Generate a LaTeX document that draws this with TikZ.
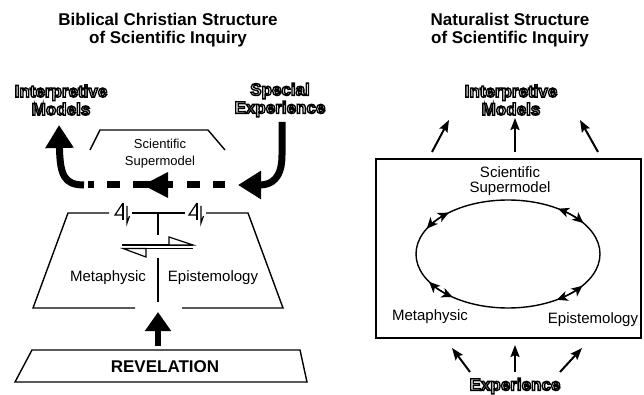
\documentclass[tikz,border=0pt]{standalone}
\usepackage{fontspec}
\setmainfont{Liberation Sans}
\font\hollowfnt="Liberation Sans/B:embolden=8" at 17pt
\newcommand\hollowsetup{\hollowfnt\baselineskip 18pt\relax}
\newcommand\hollowtext[1]{\special{pdf:bcolor [1] [0]}#1\special{pdf:ecolor}}
\usetikzlibrary{arrows.meta,calc}
\tikzset{
  hpair/.pic={
    \draw[line width=1.2pt] (0,-10) -- (0,7);
    \draw[line width=1.2pt] (0,-10) -- (-8,2) -- (0,2);
    \draw[line width=1.2pt] (4,-7) -- (4,10) -- (6.5,3);
  }
}
\begin{document}
\begin{tikzpicture}[x=1pt,y=-1pt,
  thinline/.style={line width=1.4pt},
  heavy/.style={line width=7pt},
  ttl/.style={font=\fontsize{17}{18}\selectfont\bfseries, align=center, inner sep=0},
  lbl/.style={font=\fontsize{15}{15.5}\selectfont, inner sep=0},
  hollow/.style={font=\hollowsetup, align=center, inner sep=0},
  smallarrow/.style={line width=2pt, -{Stealth[length=12pt,width=9pt,inset=2pt]}},
  ringtip/.style={line width=1.4pt, -{Stealth[length=11pt,width=10pt,inset=3pt]}},
  bigarrow/.style={line width=7pt, -{Triangle[length=23pt,width=27pt]}},
]
\useasboundingbox (0,0) rectangle (644,395);

% titles
\node[ttl] (lt) at (168,30) {Biblical Christian Structure\\of Scientific Inquiry};
\node[ttl] (rt) at (510,30) {Naturalist Structure\\of Scientific Inquiry};

% hollow labels
\node[hollow] (lim) at (61,100) {\hollowtext{Interpretive}\\\hollowtext{Models}};
\node[hollow] (lse) at (280,100) {\hollowtext{Special}\\\hollowtext{Experience}};
\node[hollow] (rim) at (511,100) {\hollowtext{Interpretive}\\\hollowtext{Models}};
\node[hollow] (rex) at (515,386) {\hollowtext{Experience}};

% ---------- left panel ----------
\draw[thinline] (90,150) -- (100,130) -- (208,130) -- (225,150);
\node[font=\fontsize{13}{17}\selectfont, align=center, inner sep=0] (lsm) at (160,154) {Scientific\\Supermodel};

\coordinate (lstart) at (84,185);
\coordinate (ltip) at (59,125);
\draw[bigarrow] (lstart) .. controls (64,185) and (60,175) .. (ltip);

\coordinate (rstart) at (282,122);
\coordinate (rtip) at (238,185);
\draw[bigarrow] (rstart) -- (282,155) .. controls (282,178) and (272,185) .. (rtip);

\draw[heavy] (88,185) -- (94,185);
\draw[heavy] (107,185) -- (120,185);
\draw[heavy] (133,185) -- (173,185);
\fill (143,185) -- (168,172) -- (168,198) -- cycle;
\draw[heavy] (187,185) -- (200,185);
\draw[heavy] (213,185) -- (225,185);

% lower trapezoid
\draw[thinline] (109,213) -- (68,213) -- (33,308) -- (135,308);
\draw[thinline] (206,213) -- (248,213) -- (283,308) -- (182,308);
\draw[thinline] (132,213) -- (185,213);
\pic at (123,213) {hpair};
\pic at (197,213) {hpair};
\draw[thinline] (158,213) -- (158,235);

\draw[line width=1.2pt] (122,245) -- (193,245);
\draw[line width=1.2pt] (122,248.5) -- (193,248.5);
\draw[line width=1.2pt, fill=white] (169,245) -- (169,237) -- (193,245) -- cycle;
\draw[line width=1.2pt, fill=white] (146,248.5) -- (146,257) -- (123,248.5) -- cycle;

\draw[thinline] (158,258) -- (158,302);
\node[lbl] (lmeta) at (108,278) {Metaphysic};
\node[lbl] (lepi) at (213,278) {Epistemology};

\coordinate (uab) at (158,346);
\coordinate (uat) at (158,312);
\draw[line width=6pt, -{Triangle[length=19pt,width=25pt]}] (uab) -- (uat);

\draw[thinline] (32,350) -- (300,350) -- (307,382) -- (15,382) -- cycle;
\node[font=\fontsize{17}{18}\selectfont\bfseries, inner sep=0] (rev) at (165,367) {REVELATION};

% ---------- right panel ----------
\node[draw, thinline, minimum width=265pt, minimum height=179pt, inner sep=0] (box) at (508.5,248.5) {};
\node[lbl, align=center] (rsm) at (510,181) {Scientific\\Supermodel};
\draw[thinline] (508,254) ellipse [x radius=92, y radius=54];
\begin{scope}[shift={(508,254)}, yscale=-1]
  \foreach \c in {141,46,-47,-138} {
    \draw[ringtip] (\c:92 and 54) arc[start angle=\c, end angle=\c+11, x radius=92, y radius=54];
    \draw[ringtip] (\c:92 and 54) arc[start angle=\c, end angle=\c-11, x radius=92, y radius=54];
  }
\end{scope}
\node[lbl] (rmeta) at (430,317) {Metaphysic};
\node[lbl] (repi) at (593,320) {Epistemology};

\coordinate (t1s) at (432,152); \coordinate (t1t) at (449,120);
\coordinate (t2s) at (515,152); \coordinate (t2t) at (515,118);
\coordinate (t3s) at (598,152); \coordinate (t3t) at (580,120);
\draw[smallarrow] (t1s) -- (t1t);
\draw[smallarrow] (t2s) -- (t2t);
\draw[smallarrow] (t3s) -- (t3t);

\coordinate (b1s) at (470,372); \coordinate (b1t) at (452,348);
\coordinate (b2s) at (515,372); \coordinate (b2t) at (515,345);
\coordinate (b3s) at (560,372); \coordinate (b3t) at (582,348);
\draw[smallarrow] (b1s) -- (b1t);
\draw[smallarrow] (b2s) -- (b2t);
\draw[smallarrow] (b3s) -- (b3t);
\end{tikzpicture}
\end{document}
